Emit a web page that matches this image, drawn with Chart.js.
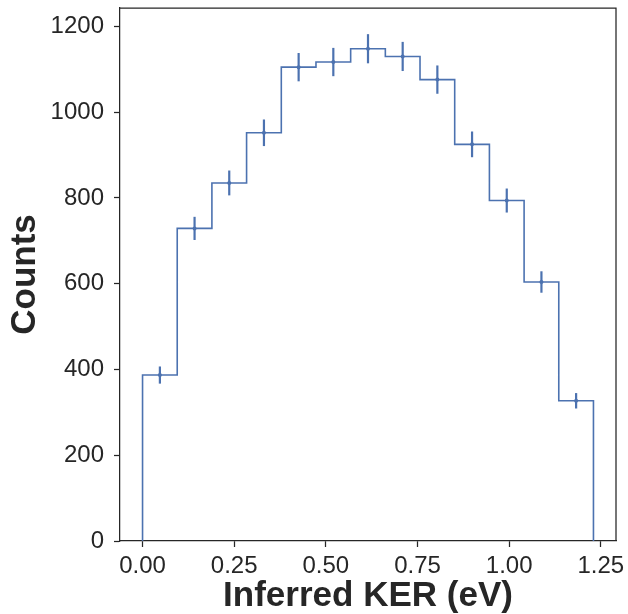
<!DOCTYPE html>
<html>
<head>
<meta charset="utf-8">
<script src="https://cdn.jsdelivr.net/npm/chart.js@4.4.0/dist/chart.umd.min.js"></script>
<style>
  html, body { margin: 0; padding: 0; background: #fff; }
  #wrap { width: 628px; height: 614px; }
</style>
</head>
<body>
<div id="wrap"><canvas id="kerChart" width="628" height="614"></canvas></div>
<script>
// histogram bin edges (eV), counts per bin and error bars
const binEdges = [0, 0.0946, 0.1892, 0.2838, 0.3785, 0.4731, 0.5677, 0.6623, 0.7569, 0.8515, 0.9462, 1.0408, 1.1354, 1.2300];
const counts = [387, 729, 835, 952, 1105, 1117, 1148, 1130, 1076, 925, 794, 604, 327];
const countErrors = [20, 27, 29, 31, 33, 33, 34, 34, 33, 30, 28, 25, 18];
const xTicks = [0, 0.25, 0.5, 0.75, 1.0, 1.25];
const yTicks = [0, 200, 400, 600, 800, 1000, 1200];

const lineColor = '#4c72b0';
const inkColor = '#262626';

// step outline like matplotlib histtype='step'
const stepPoints = [{ x: binEdges[0], y: 0 }];
counts.forEach((c, i) => stepPoints.push({ x: binEdges[i], y: c }));
stepPoints.push({ x: binEdges[binEdges.length - 1], y: 0 });

const centerPoints = counts.map((c, i) => ({ x: (binEdges[i] + binEdges[i + 1]) / 2, y: c }));

// vertical error bars at bin centres + top/right spines
const errorBarPlugin = {
    id: 'errorBars',
    afterDatasetsDraw(chart) {
        const { ctx, scales: { x, y } } = chart;
        ctx.save();
        ctx.strokeStyle = lineColor;
        ctx.lineWidth = 2.2;
        centerPoints.forEach((p, i) => {
            const px = x.getPixelForValue(p.x);
            ctx.beginPath();
            ctx.moveTo(px, y.getPixelForValue(p.y - countErrors[i]));
            ctx.lineTo(px, y.getPixelForValue(p.y + countErrors[i]));
            ctx.stroke();
        });
        ctx.restore();
    },
    afterDraw(chart) {
        const { ctx, chartArea: { top, bottom, left, right } } = chart;
        ctx.save();
        ctx.strokeStyle = inkColor;
        ctx.lineWidth = 1.25;
        ctx.beginPath();
        ctx.moveTo(left, top);
        ctx.lineTo(right, top);
        ctx.lineTo(right, bottom);
        ctx.stroke();
        ctx.restore();
    }
};

const tickFont = { family: "'Liberation Sans', Arial, sans-serif", size: 24 };
const titleFont = { family: "'Liberation Sans', Arial, sans-serif", size: 35, weight: 'bold', lineHeight: 1 };

// keep label overhang from pushing the plot area around
function noLabelPadding(scale) {
    scale.paddingTop = 0;
    scale.paddingBottom = 0;
    scale.paddingLeft = 0;
    scale.paddingRight = 0;
}

new Chart(document.getElementById('kerChart'), {
    type: 'scatter',
    data: {
        datasets: [{
            type: 'line',
            data: stepPoints,
            stepped: 'before',
            borderColor: lineColor,
            borderWidth: 1.6,
            pointRadius: 0,
            fill: false
        }, {
            data: centerPoints,
            backgroundColor: lineColor,
            borderColor: lineColor,
            pointRadius: 2,
            borderWidth: 0
        }]
    },
    options: {
        responsive: false,
        animation: false,
        layout: { padding: { top: 8, right: 12, left: 0, bottom: 0 } },
        plugins: {
            legend: { display: false },
            tooltip: { enabled: false }
        },
        scales: {
            x: {
                type: 'linear',
                min: -0.0615,
                max: 1.2915,
                afterBuildTicks: axis => { axis.ticks = xTicks.map(v => ({ value: v })); },
                afterFit: scale => { scale.height = 73; noLabelPadding(scale); },
                ticks: {
                    callback: v => Number(v).toFixed(2),
                    color: inkColor,
                    font: tickFont,
                    padding: 5,
                    maxRotation: 0
                },
                grid: { drawOnChartArea: false, drawTicks: true, tickLength: 6, tickColor: inkColor, tickWidth: 1.25 },
                border: { display: true, color: inkColor, width: 1.25 },
                title: { display: true, text: 'Inferred KER (eV)', color: inkColor, font: titleFont, padding: 0 }
            },
            y: {
                type: 'linear',
                min: 0,
                max: 1243,
                afterBuildTicks: axis => { axis.ticks = yTicks.map(v => ({ value: v })); },
                afterFit: scale => { scale.width = 120; noLabelPadding(scale); },
                ticks: {
                    callback: v => String(v),
                    color: inkColor,
                    font: tickFont,
                    padding: 10
                },
                grid: { drawOnChartArea: false, drawTicks: true, tickLength: 6, tickColor: inkColor, tickWidth: 1.25 },
                border: { display: true, color: inkColor, width: 1.25 },
                title: { display: true, text: 'Counts', color: inkColor, font: titleFont, padding: { top: 8, bottom: 0 } }
            }
        }
    },
    plugins: [errorBarPlugin]
});
</script>
</body>
</html>
